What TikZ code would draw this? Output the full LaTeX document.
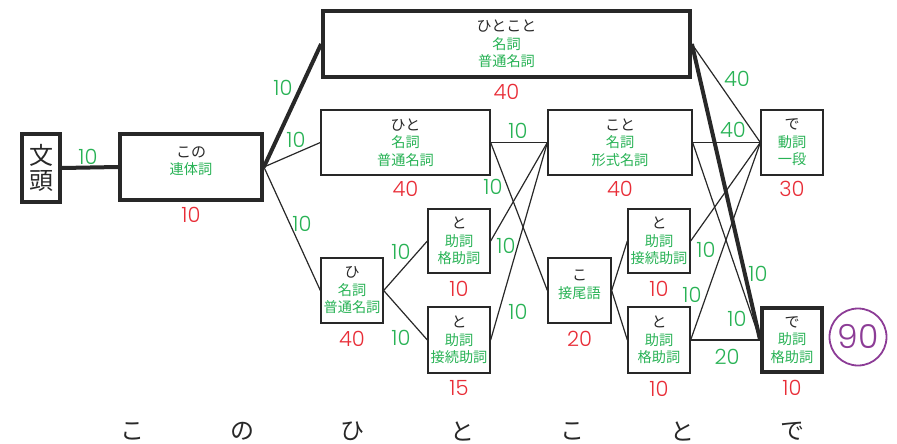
\documentclass[tikz,border=0pt]{standalone}
\usepackage{fontspec}
\setmainfont{Noto Sans CJK JP}
\newfontfamily\numfont{Poppins Light}
\definecolor{inkgray}{RGB}{40, 40, 40}
\definecolor{posgreen}{RGB}{40, 178, 85}
\definecolor{costred}{RGB}{232, 45, 55}
\definecolor{totalviolet}{RGB}{140, 60, 150}
\usepackage{tikz}
\usetikzlibrary{positioning}

% surface form on top, part of speech below
\newcommand{\morph}[2]{{\fontsize{15}{17.5}\selectfont\color{inkgray}#1}\\#2}

\begin{document}
\begin{tikzpicture}[x=1pt, y=-1pt,
  morphbox/.style 2 args={draw=inkgray, line width=1.3pt, minimum width=#1, minimum height=#2,
    align=center, inner sep=0pt, text=posgreen, font=\fontsize{14.2}{17.5}\selectfont},
  best/.style={line width=3.8pt},
  twoline/.style={text depth=13pt},
  cost/.style={text=costred, inner sep=0pt, font=\numfont\fontsize{21}{21}\selectfont},
  wt/.style={text=posgreen, inner sep=0pt, font=\numfont\fontsize{21}{21}\selectfont},
  link/.style={draw=inkgray, line width=1.2pt},
  bestlink/.style={draw=inkgray, line width=4pt},
  reading/.style={text=inkgray, inner sep=0pt, font=\fontsize{24}{24}\selectfont}]
  \useasboundingbox (0,0) rectangle (897,444);

  % Lattice nodes
  \node[morphbox={38}{68}, best, text=inkgray, font=\fontsize{24}{25}\selectfont] (bos) at (41, 168) {文\\頭};
  \node[morphbox={142}{66}, best, twoline] (kono) at (191, 167) {\morph{この}{連体詞}};
  \node[morphbox={367}{66}, best] (hitokoto) at (506.5, 44) {\morph{ひとこと}{名詞\\普通名詞}};
  \node[morphbox={169}{65}] (hito) at (405.5, 142.5) {\morph{ひと}{名詞\\普通名詞}};
  \node[morphbox={62}{65}] (hi) at (352, 290.5) {\morph{ひ}{名詞\\普通名詞}};
  \node[morphbox={62}{64}] (to1) at (459, 241) {\morph{と}{助詞\\格助詞}};
  \node[morphbox={62}{66}] (to2) at (459, 340) {\morph{と}{助詞\\接続助詞}};
  \node[morphbox={144}{65}] (koto) at (620, 142.5) {\morph{こと}{名詞\\形式名詞}};
  \node[morphbox={63}{65}, twoline] (ko) at (579.5, 290.5) {\morph{こ}{接尾語}};
  \node[morphbox={62}{64}] (to3) at (659, 241) {\morph{と}{助詞\\接続助詞}};
  \node[morphbox={62}{66}] (to4) at (659, 340) {\morph{と}{助詞\\格助詞}};
  \node[morphbox={62}{65}] (de1) at (792, 142.5) {\morph{で}{動詞\\一段}};
  \node[morphbox={60}{64}, best] (de2) at (792, 340) {\morph{で}{助詞\\格助詞}};

  % Word costs
  \node[cost, below=5pt of kono] (c-kono) {10};
  \node[cost, below=5pt of hitokoto] (c-hitokoto) {40};
  \node[cost, below=5pt of hito] (c-hito) {40};
  \node[cost, below=7pt of hi] (c-hi) {40};
  \node[cost, below=7pt of to1] (c-to1) {10};
  \node[cost, below=7pt of to2] (c-to2) {15};
  \node[cost, below=5pt of koto] (c-koto) {40};
  \node[cost, below=7pt of ko] (c-ko) {20};
  \node[cost, below=7pt of to3] (c-to3) {10};
  \node[cost, below=7pt of to4] (c-to4) {10};
  \node[cost, below=5pt of de1] (c-de1) {30};
  \node[cost, below=6pt of de2] (c-de2) {10};

  % Connections
  \draw[bestlink] (bos.east) -- (kono.west);
  \draw[bestlink] (kono.east) -- (hitokoto.west);
  \draw[link] (kono.east) -- (hito.west);
  \draw[link] (kono.east) -- (hi.west);
  \draw[link] (hi.east) -- (to1.west);
  \draw[link] (hi.east) -- (to2.west);
  \draw[link] (hito.east) -- (koto.west);
  \draw[link] (hito.east) -- (ko.west);
  \draw[link] (to1.east) -- (koto.west);
  \draw[link] (to2.east) -- (koto.west);
  \draw[link] (ko.east) -- (to3.west);
  \draw[link] (ko.east) -- (to4.west);
  \draw[link] (hitokoto.east) -- (de1.west);
  \draw[bestlink] (hitokoto.east) -- (de2.west);
  \draw[link] (koto.east) -- (de1.west);
  \draw[link] (koto.east) -- (de2.west);
  \draw[link] (to3.east) -- (de1.west);
  \draw[link] (to4.east) -- (de1.west);
  \draw[link] (to4.east) -- (de2.west);

  % Connection costs
  \node[wt] (w-bos-kono) at (88, 157) {10};
  \node[wt] (w-kono-hitokoto) at (283, 88) {10};
  \node[wt] (w-kono-hito) at (296, 140) {10};
  \node[wt] (w-kono-hi) at (302, 224) {10};
  \node[wt] (w-hi-to1) at (401, 252) {10};
  \node[wt] (w-hi-to2) at (401, 338) {10};
  \node[wt] (w-hito-koto) at (518, 131) {10};
  \node[wt] (w-hito-ko) at (493, 187) {10};
  \node[wt] (w-to1-koto) at (506, 246) {10};
  \node[wt] (w-to2-koto) at (518, 312) {10};
  \node[wt] (w-hitokoto-de1) at (737, 79) {40};
  \node[wt] (w-koto-de1) at (733, 130) {40};
  \node[wt] (w-to3-de1) at (706, 250) {10};
  \node[wt] (w-hitokoto-de2) at (758, 274) {10};
  \node[wt] (w-to4-de1) at (692, 295) {10};
  \node[wt] (w-koto-de2) at (737, 319) {10};
  \node[wt] (w-to4-de2) at (727, 357) {20};

  % Total cost of the best path
  \node[draw=totalviolet, circle, line width=1.8pt, minimum size=57pt, inner sep=0pt,
    text=totalviolet, font=\numfont\fontsize{33}{33}\selectfont] (total) at (858, 337) {90};

  % Reading of the sentence
  \foreach \ch [count=\i] in {こ,の,ひ,と,こ,と,で}
    \node[reading] (r\i) at ({22+110*\i}, 431) {\ch};
\end{tikzpicture}
\end{document}
